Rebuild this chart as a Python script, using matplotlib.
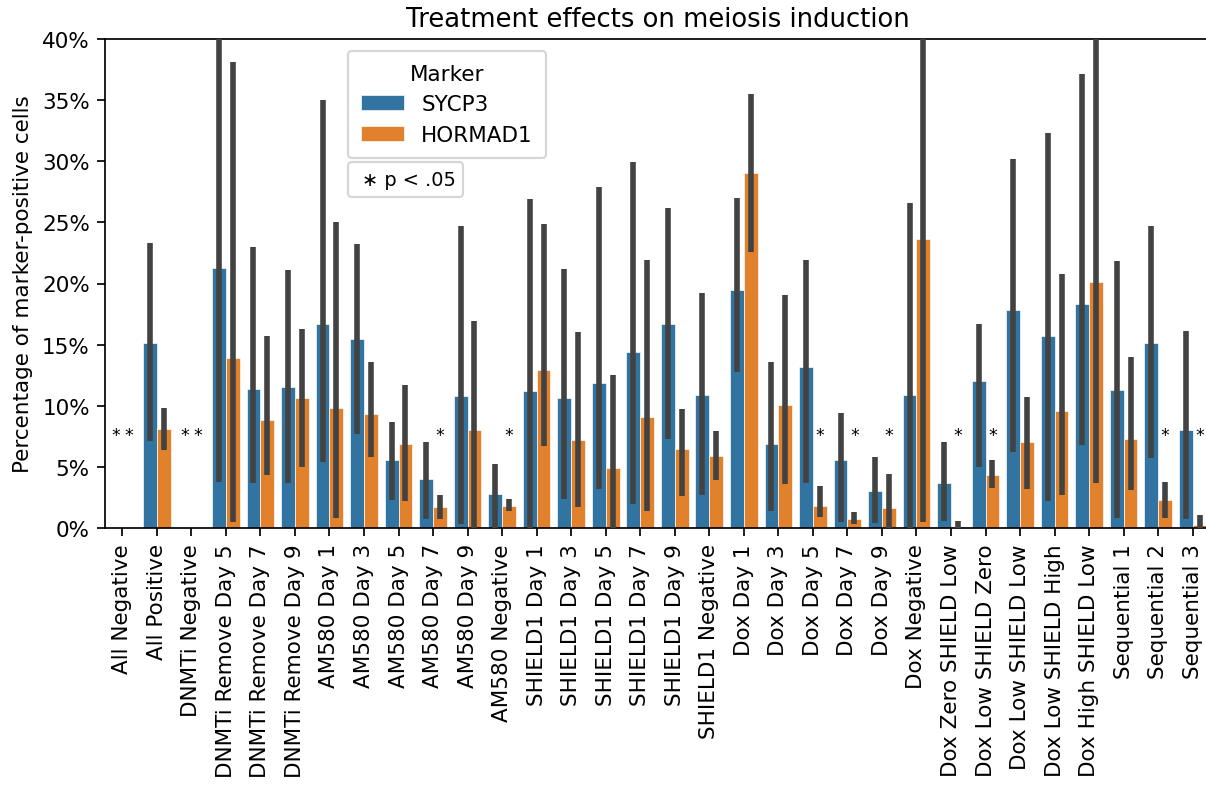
import numpy as np
import matplotlib
matplotlib.use("Agg")
import matplotlib.pyplot as plt
from matplotlib.ticker import PercentFormatter, MultipleLocator

# ---------------------------------------------------------------------------
# data (percent of marker-positive cells)
# ---------------------------------------------------------------------------
treatments = [
    "All Negative", "All Positive", "DNMTi Negative",
    "DNMTi Remove Day 5", "DNMTi Remove Day 7", "DNMTi Remove Day 9",
    "AM580 Day 1", "AM580 Day 3", "AM580 Day 5", "AM580 Day 7", "AM580 Day 9",
    "AM580 Negative",
    "SHIELD1 Day 1", "SHIELD1 Day 3", "SHIELD1 Day 5", "SHIELD1 Day 7",
    "SHIELD1 Day 9", "SHIELD1 Negative",
    "Dox Day 1", "Dox Day 3", "Dox Day 5", "Dox Day 7", "Dox Day 9",
    "Dox Negative", "Dox Zero SHIELD Low", "Dox Low SHIELD Zero",
    "Dox Low SHIELD Low", "Dox Low SHIELD High", "Dox High SHIELD Low",
    "Sequential 1", "Sequential 2", "Sequential 3",
]

sycp3 = [0, 15.1, 0, 21.3, 11.4, 11.5, 16.7, 15.5, 5.6, 4.0, 10.8, 2.8,
         11.2, 10.6, 11.9, 14.4, 16.7, 10.9, 19.5, 6.9, 13.2, 5.6, 3.0,
         10.9, 3.7, 12.0, 17.8, 15.7, 18.3, 11.3, 15.1, 8.0]
sycp3_lo = [0, 7.1, 0, 3.8, 3.7, 3.7, 5.4, 7.7, 2.3, 0.7, 0.35, 0.0,
            0.0, 2.4, 3.2, 2.0, 7.3, 2.7, 12.8, 1.4, 3.7, 0.5, 0.4,
            0.0, 0.6, 5.0, 6.2, 2.2, 6.8, 0.8, 5.7, 0.7]
sycp3_hi = [0, 23.3, 0, 45.0, 23.0, 21.1, 35.0, 23.2, 8.7, 7.0, 24.7, 5.2,
            26.9, 21.2, 27.9, 29.9, 26.2, 19.2, 27.0, 13.6, 21.9, 9.4, 5.8,
            26.6, 7.0, 16.7, 30.2, 32.3, 37.1, 21.8, 24.7, 16.1]

hormad1 = [0, 8.1, 0, 13.9, 8.8, 10.6, 9.8, 9.3, 6.9, 1.7, 8.0, 1.8,
           12.9, 7.2, 4.9, 9.1, 6.5, 5.9, 29.0, 10.1, 1.8, 0.7, 1.6,
           23.6, 0.1, 4.3, 7.0, 9.6, 20.1, 7.3, 2.3, 0.25]
hormad1_lo = [0, 6.4, 0, 0.5, 4.3, 5.0, 0.8, 5.8, 2.2, 0.7, 0.0, 1.4,
              6.7, 1.7, 0.0, 1.4, 2.6, 3.9, 22.6, 3.6, 0.9, 0.3, 0.0,
              0.5, 0.0, 3.3, 3.2, 2.7, 3.7, 3.1, 0.8, 0.0]
hormad1_hi = [0, 9.8, 0, 38.1, 15.7, 16.3, 25.0, 13.6, 11.7, 2.7, 16.9, 2.4,
              24.9, 16.0, 12.5, 21.9, 9.7, 7.9, 35.5, 19.1, 3.4, 1.3, 4.4,
              45.0, 0.6, 5.6, 10.7, 20.8, 45.0, 14.0, 3.8, 1.1]

# significance marks: (treatment index, marker) -> 0 = SYCP3, 1 = HORMAD1
sig_marks = [(0, 0), (0, 1), (2, 0), (2, 1), (9, 1), (11, 1), (20, 1),
             (21, 1), (22, 1), (24, 1), (25, 1), (30, 1), (31, 1)]

markers = ["SYCP3", "HORMAD1"]
colors = ["#3274a1", "#e1812c"]

# ---------------------------------------------------------------------------
# plot
# ---------------------------------------------------------------------------
DPI = 155
fig = plt.figure(figsize=(1206 / DPI, 789 / DPI), dpi=DPI)
ax = fig.add_axes([105 / 1206, 1 - 529 / 789, 1105 / 1206, 489 / 789])

x = np.arange(len(treatments))
width = 0.4
series = [(sycp3, sycp3_lo, sycp3_hi), (hormad1, hormad1_lo, hormad1_hi)]
offsets = [-width / 2, width / 2]

for k, (vals, lo, hi) in enumerate(series):
    pos = x + offsets[k]
    ax.bar(pos, vals, width=width, color=colors[k], label=markers[k],
           edgecolor="white", linewidth=0.3, zorder=2)
    has_err = np.array(hi) > 0
    ax.vlines(pos[has_err], np.array(lo)[has_err], np.array(hi)[has_err],
              color="#424242", linewidth=2.6, zorder=3)

for i, k in sig_marks:
    ax.text(x[i] + offsets[k], 7.6, "*", ha="center", va="center",
            fontsize=8, zorder=4)

ax.set_xlim(-0.5, len(treatments) - 0.5)
ax.set_ylim(0, 40)
ax.yaxis.set_major_locator(MultipleLocator(5))
ax.yaxis.set_major_formatter(PercentFormatter(xmax=100, decimals=0))
ax.set_xticks(x)
ax.set_xticklabels(treatments, rotation=90)
ax.set_ylabel("Percentage of marker-positive cells")
ax.set_title("Treatment effects on meiosis induction", fontsize=12)

leg1 = ax.legend(title="Marker", loc="upper left",
                 bbox_to_anchor=(0.22, 0.976), borderaxespad=0,
                 borderpad=0.6)
ax.add_artist(leg1)
ax.legend(handles=[plt.Line2D([], [], linestyle="none")],
          labels=["\u2217 p < .05"], loc="upper left", fontsize=9,
          bbox_to_anchor=(0.22, 0.748), borderaxespad=0,
          handlelength=0, handletextpad=0.3)

fig.savefig("out.png", dpi=DPI)
